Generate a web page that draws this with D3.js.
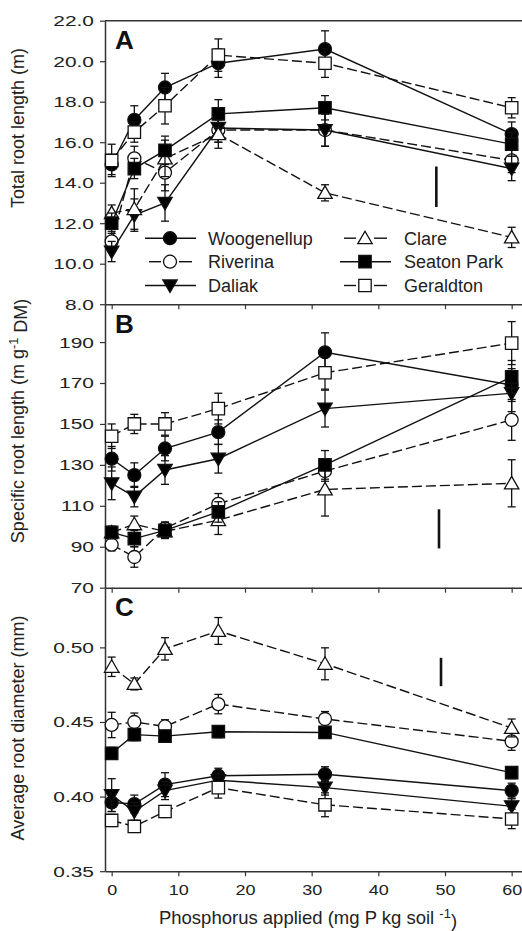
<!DOCTYPE html>
<html>
<head>
<meta charset="utf-8">
<script src="https://cdn.jsdelivr.net/npm/d3@7"></script>
<style>
  body { margin: 0; background: #fff; }
  svg { display: block; font-family: "Liberation Sans", Arial, Helvetica, sans-serif; }
</style>
</head>
<body>
<svg id="chart" width="522" height="931"></svg>
<script>
// ---- data ---------------------------------------------------------------
const phosphorus = [0, 3.4, 8, 16, 32, 60];           // mg P kg soil-1
const cultivars = ["Woogenellup", "Riverina", "Daliak", "Clare", "Seaton Park", "Geraldton"];

// A: total root length (m), rows in cultivar order
const totalLengthMean = [
  [14.9, 17.1, 18.7, 19.9, 20.6, 16.4],
  [11.1, 15.2, 14.5, 16.6, 16.6, 15.1],
  [10.6, 12.4, 13.0, 16.7, 16.6, 14.7],
  [12.5, 12.7, 15.2, 16.4, 13.5, 11.3],
  [12.0, 14.7, 15.6, 17.4, 17.7, 15.9],
  [15.1, 16.5, 17.8, 20.3, 19.9, 17.7]
];
const totalLengthSE = [
  [0.5, 0.7, 0.7, 0.7, 0.9, 0.6],
  [0.5, 0.6, 0.9, 0.6, 0.8, 0.6],
  [0.5, 0.8, 0.9, 0.7, 0.8, 0.6],
  [0.4, 1.0, 0.9, 0.7, 0.4, 0.5],
  [0.5, 0.5, 0.7, 0.7, 0.6, 0.6],
  [0.8, 0.5, 0.9, 0.8, 0.7, 0.5]
];

// B: specific root length (m g-1 DM)
const specificLengthMean = [
  [133, 125, 138, 146, 185, 169],
  [91, 85, 99, 111, 127, 152],
  [121, 114.5, 127.5, 133, 157.5, 165],
  [97, 101, 97.5, 103, 118, 121],
  [97, 94, 98, 107, 130, 173],
  [144, 150, 150, 157.5, 175, 189.5]
];
const specificLengthSE = [
  [6, 6, 6, 6, 9.5, 8],
  [3, 5, 3, 5, 5, 10],
  [8, 5, 7, 7, 9, 9],
  [3, 4, 3, 7, 13, 11.5],
  [3, 4, 4, 5, 7, 8],
  [6, 4.7, 5.5, 7.5, 8, 10.5]
];

// C: average root diameter (mm)
const diameterMean = [
  [0.396, 0.395, 0.408, 0.414, 0.415, 0.404],
  [0.448, 0.450, 0.447, 0.462, 0.452, 0.437],
  [0.401, 0.390, 0.404, 0.411, 0.406, 0.3935],
  [0.487, 0.4755, 0.499, 0.511, 0.489, 0.446],
  [0.429, 0.4415, 0.4405, 0.4435, 0.443, 0.416],
  [0.384, 0.380, 0.390, 0.406, 0.3945, 0.385]
];
const diameterSE = [
  [0.006, 0.006, 0.008, 0.005, 0.005, 0.005],
  [0.0085, 0.006, 0.0045, 0.0065, 0.005, 0.006],
  [0.011, 0.006, 0.006, 0.005, 0.005, 0.005],
  [0.0065, 0.004, 0.0075, 0.009, 0.0107, 0.006],
  [0.004, 0.004, 0.004, 0.004, 0.004, 0.004],
  [0.004, 0.004, 0.004, 0.007, 0.008, 0.0065]
];

// LSD bars (P < 0.05), one per panel
const lsdX = [48.7, 49.1, 49.4];
const lsdLow = [12.8, 89.2, 0.474];
const lsdHigh = [14.8, 108.3, 0.493];

// axis ticks
const phosphorusTicks = [0, 10, 20, 30, 40, 50, 60];
const totalLengthTicks = [8, 10, 12, 14, 16, 18, 20, 22];
const specificLengthTicks = [70, 90, 110, 130, 150, 170, 190];
const diameterTicks = [0.35, 0.40, 0.45, 0.50];

// ---- styling per cultivar -------------------------------------------------
const seriesStyle = {
  "Woogenellup": { shape: "circle",   fill: "#000", dash: null },
  "Riverina":    { shape: "circle",   fill: "#fff", dash: "10,4" },
  "Daliak":      { shape: "triDown",  fill: "#000", dash: null },
  "Clare":       { shape: "triUp",    fill: "#fff", dash: "10,4" },
  "Seaton Park": { shape: "square",   fill: "#000", dash: null },
  "Geraldton":   { shape: "square",   fill: "#fff", dash: "10,4" }
};

function markerPath(shape) {
  switch (shape) {
    case "circle": return d3.symbol(d3.symbolCircle, Math.PI * 6.5 * 6.5)();
    case "square": return "M-6.2,-6.2H6.2V6.2H-6.2Z";
    case "triUp":  return "M0,-7L7.2,5.5H-7.2Z";
    case "triDown":return "M0,7L7.2,-5.5H-7.2Z";
  }
}

// ---- layout -------------------------------------------------------------
const svg = d3.select("#chart");
const AXIS_COLOR = "#333";
const PANEL_H = 283.5;
const x = d3.scaleLinear().domain([-1, 62]).range([105, 525]);

const panels = [
  { letter: "A", top: 20.7, domain: [8, 22], ticks: totalLengthTicks, fmt: d3.format(".1f"),
    mean: totalLengthMean, se: totalLengthSE, label: ["Total root length (m)"], labelY: 128 },
  { letter: "B", top: 304.2, domain: [70, 208.5], ticks: specificLengthTicks, fmt: d3.format("d"),
    mean: specificLengthMean, se: specificLengthSE, label: ["Specific root length (m g", "-1", " DM)"], labelY: 421 },
  { letter: "C", top: 587.7, domain: [0.35, 0.54], ticks: diameterTicks, fmt: d3.format(".2f"),
    mean: diameterMean, se: diameterSE, label: ["Average root diameter (mm)"], labelY: 728 }
];

function addLabel(sel, parts) {
  sel.append("tspan").text(parts[0]);
  if (parts.length > 1) {
    sel.append("tspan").attr("font-size", "0.7em").attr("dy", "-0.5em").text(parts[1]);
    sel.append("tspan").attr("dy", "0.5em").text(parts[2]);
  }
}

panels.forEach((p, pi) => {
  const g = svg.append("g").attr("transform", `translate(0,${p.top})`);
  const y = d3.scaleLinear().domain(p.domain).range([PANEL_H, 0]);

  // frame line along the top of the first panel
  if (pi === 0) {
    g.append("line").attr("x1", x.range()[0]).attr("x2", x.range()[1])
      .attr("y1", 0).attr("y2", 0).attr("stroke", AXIS_COLOR).attr("stroke-width", 1.5);
  }

  // left axis
  const ya = g.append("g").attr("transform", `translate(${x.range()[0]},0)`)
    .call(d3.axisLeft(y).tickValues(p.ticks).tickFormat(p.fmt).tickSize(5).tickSizeOuter(0));
  ya.select(".domain").attr("stroke", AXIS_COLOR).attr("stroke-width", 1.5);
  ya.selectAll(".tick line").attr("stroke", AXIS_COLOR).attr("stroke-width", 1.2);
  ya.selectAll(".tick text")
    .attr("x", -11 / 1.35).attr("transform", "scale(1.35,1)")
    .attr("font-size", 15.5).attr("fill", "#222");
  ya.attr("font-family", null);

  // bottom axis (tick labels only on the last panel)
  const xa = g.append("g").attr("transform", `translate(0,${PANEL_H})`)
    .call(d3.axisBottom(x).tickValues(phosphorusTicks).tickSize(5).tickSizeOuter(0).tickPadding(8));
  xa.select(".domain").attr("stroke", AXIS_COLOR).attr("stroke-width", 1.5);
  xa.selectAll(".tick line").attr("stroke", AXIS_COLOR).attr("stroke-width", 1.2);
  xa.attr("font-family", null);
  if (pi < panels.length - 1) {
    xa.selectAll(".tick text").remove();
  } else {
    xa.selectAll(".tick text").attr("transform", "scale(1.2,1)")
      .attr("font-size", 15).attr("fill", "#222");
  }

  // panel letter
  g.append("text").attr("x", 115).attr("y", 28.6)
    .attr("font-size", 26).attr("font-weight", "bold").attr("fill", "#111").text(p.letter);

  // y-axis title
  const yl = g.append("text")
    .attr("transform", `translate(24,${p.labelY - p.top}) rotate(-90)`)
    .attr("text-anchor", "middle").attr("font-size", 18).attr("fill", "#222");
  addLabel(yl, p.label);

  // series
  const line = d3.line().x((d, i) => x(phosphorus[i])).y(d => y(d));
  cultivars.forEach((name, si) => {
    const st = seriesStyle[name];
    const means = p.mean[si], ses = p.se[si];
    const sg = g.append("g");
    sg.append("path").datum(means).attr("d", line)
      .attr("fill", "none").attr("stroke", "#111").attr("stroke-width", 1.4)
      .attr("stroke-dasharray", st.dash);
    const eb = sg.selectAll(".eb").data(means).join("g")
      .attr("transform", (d, i) => `translate(${x(phosphorus[i])},0)`)
      .attr("stroke", "#111").attr("stroke-width", 1.3);
    eb.append("line").attr("y1", (d, i) => y(d - ses[i])).attr("y2", (d, i) => y(d + ses[i]));
    eb.append("line").attr("x1", -4).attr("x2", 4)
      .attr("y1", (d, i) => y(d + ses[i])).attr("y2", (d, i) => y(d + ses[i]));
    eb.append("line").attr("x1", -4).attr("x2", 4)
      .attr("y1", (d, i) => y(d - ses[i])).attr("y2", (d, i) => y(d - ses[i]));
    sg.selectAll(".mk").data(means).join("path")
      .attr("transform", (d, i) => `translate(${x(phosphorus[i])},${y(d)})`)
      .attr("d", markerPath(st.shape))
      .attr("fill", st.fill).attr("stroke", "#111").attr("stroke-width", 1.3);
  });

  // LSD bar
  g.append("line").attr("x1", x(lsdX[pi])).attr("x2", x(lsdX[pi]))
    .attr("y1", y(lsdLow[pi])).attr("y2", y(lsdHigh[pi]))
    .attr("stroke", "#111").attr("stroke-width", 2.6);

  // legend in panel A
  if (pi === 0) {
    const colMarker = [170, 365], colText = [208, 404];
    const rowBase = [245, 268.5, 292.3];
    cultivars.forEach((name, si) => {
      const st = seriesStyle[name];
      const col = Math.floor(si / 3), row = si % 3;
      const cx = colMarker[col], cy = rowBase[row] - 6.8 - p.top;
      const lg = g.append("g");
      if (st.dash) {
        lg.append("line").attr("x1", cx - 21).attr("x2", cx - 9).attr("y1", cy).attr("y2", cy)
          .attr("stroke", "#111").attr("stroke-width", 1.4);
        lg.append("line").attr("x1", cx + 9).attr("x2", cx + 22).attr("y1", cy).attr("y2", cy)
          .attr("stroke", "#111").attr("stroke-width", 1.4);
      } else {
        lg.append("line").attr("x1", cx - 25).attr("x2", cx + 26).attr("y1", cy).attr("y2", cy)
          .attr("stroke", "#111").attr("stroke-width", 1.4);
      }
      lg.append("path").attr("transform", `translate(${cx},${cy})`).attr("d", markerPath(st.shape))
        .attr("fill", st.fill).attr("stroke", "#111").attr("stroke-width", 1.3);
      lg.append("text").attr("x", colText[col]).attr("y", rowBase[row] - p.top)
        .attr("font-size", 18).attr("fill", "#222").text(name);
    });
  }
});

// x-axis title
const xt = svg.append("text").attr("x", 308).attr("y", 924)
  .attr("text-anchor", "middle").attr("font-size", 18.5).attr("fill", "#222");
addLabel(xt, ["Phosphorus applied (mg P kg soil ", "-1", ")"]);
</script>
</body>
</html>
